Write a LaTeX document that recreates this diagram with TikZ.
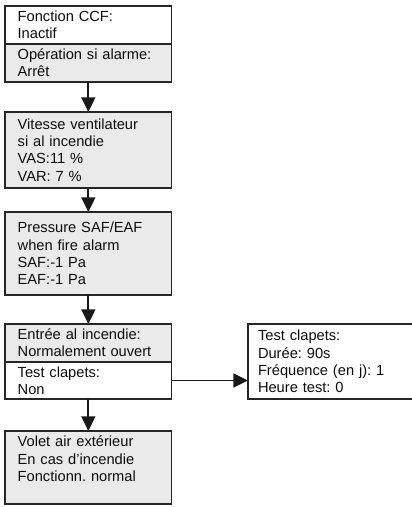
\documentclass[tikz,border=0pt]{standalone}
\usepackage{fontspec}
\setmainfont{Liberation Sans}
\usepackage{xcolor}
\usetikzlibrary{arrows.meta,positioning}
\definecolor{boxgray}{RGB}{234,234,234}
\frenchspacing

\begin{document}
\begin{tikzpicture}[
  x=0.75pt, y=-0.75pt,
  box/.style={draw=black!85, line width=0.9pt, anchor=north west, align=left, text width=106pt, inner xsep=9.5pt, inner ysep=2pt, outer sep=0pt, font=\fontsize{11}{13}\selectfont, text=black!95},
  gbox/.style={box, fill=boxgray},
  arr/.style={-{Triangle[length=11pt, width=10.5pt]}, line width=1.3pt, black!90}]
\useasboundingbox (0,0) rectangle (411,507);
\node[box, minimum height=28.5pt] (ccf) at (5,6) {Fonction CCF:\\Inactif};
\node[gbox, minimum height=28.5pt, below=0pt of ccf] (alarme) {Opération si alarme:\\Arrêt};
\node[gbox, minimum height=57pt] (vitesse) at (5,112) {Vitesse ventilateur\\si al incendie\\VAS:11 \%\\VAR: 7 \%};
\node[gbox, minimum height=62.25pt] (pression) at (5,212) {Pressure SAF/EAF\\when fire alarm\\SAF:-1 Pa\\EAF:-1 Pa};
\node[gbox, minimum height=28.5pt] (entree) at (5,324) {Entrée al incendie:\\Normalement ouvert};
\node[box, minimum height=27.75pt, below=0pt of entree] (clapets) {Test clapets:\\Non};
\node[gbox, minimum height=54.75pt] (volet) at (5,431) {Volet air extérieur\\En cas d'incendie\\Fonctionn. normal\\\mbox{}};
\node[box, text width=140pt, inner xsep=7.5pt, minimum height=56.25pt] (essai) at (248,324) {Test clapets:\\Durée: 90s\\Fréquence (en j): 1\\Heure test: 0};
\foreach \a/\b in {alarme/vitesse,vitesse/pression,pression/entree,clapets/volet} \draw[arr] (\a) -- (\b);
\draw[arr] (clapets.east) -- (clapets.east -| essai.west);
\end{tikzpicture}
\end{document}
